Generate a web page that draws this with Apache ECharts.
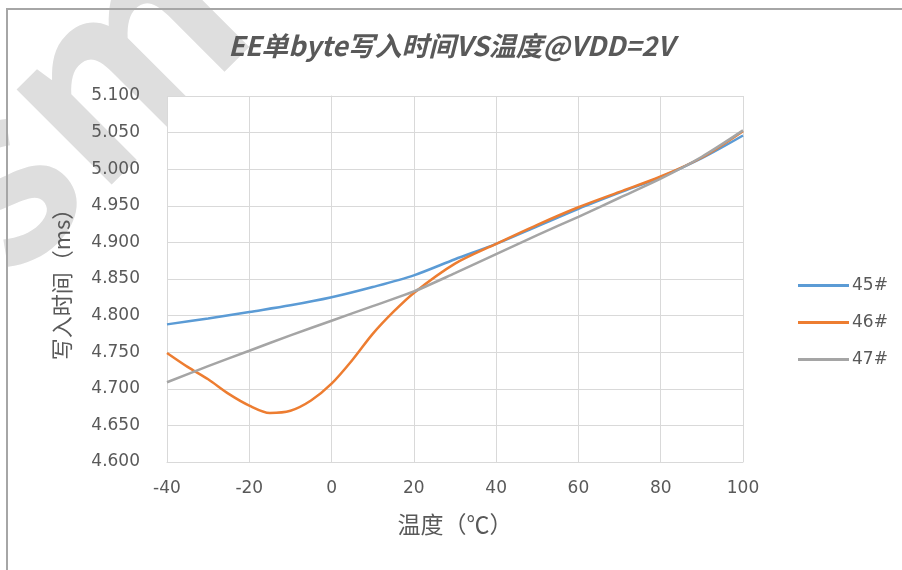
<!DOCTYPE html>
<html>
<head>
<meta charset="utf-8">
<script src="https://cdn.jsdelivr.net/npm/echarts@6/dist/echarts.min.js"></script>
<style>
  html, body { margin: 0; padding: 0; background: #fff; }
  #chart { width: 902px; height: 570px; }
</style>
</head>
<body>
<div id="chart"></div>
<script>
// 温度 (℃)
const temps = [-40, -30, -20, -10, 0, 10, 20, 30, 40, 50, 60, 70, 80, 90, 100];
const temps46 = [-40, -35, -30, -25, -20, -15, -10, -5, 0, 5, 10, 15, 20, 30, 40, 50, 60, 70, 80, 90, 100];
// 写入时间 (ms)
const s45 = [4.788, 4.796, 4.805, 4.814, 4.825, 4.839, 4.855, 4.877, 4.898, 4.922, 4.946, 4.968, 4.989, 5.015, 5.046];
const s46 = [4.749, 4.730, 4.713, 4.693, 4.677, 4.667, 4.670, 4.684, 4.707, 4.739, 4.775, 4.805, 4.831, 4.871, 4.898, 4.924, 4.948, 4.969, 4.990, 5.016, 5.052];
const s47 = [4.709, 4.731, 4.752, 4.773, 4.793, 4.813, 4.833, 4.858, 4.884, 4.910, 4.935, 4.961, 4.987, 5.017, 5.053];
const seriesNames = ['45#', '46#', '47#'];
const seriesColors = ['#5b9bd5', '#ed7d31', '#a5a5a5'];

const font = '"Noto Sans CJK SC", "Noto Sans", sans-serif';
const numFont = '"DejaVu Sans", sans-serif';
const textColor = '#595959';

function pairs(xs, values) {
  return xs.map((t, i) => [t, values[i]]);
}

const chart = echarts.init(document.getElementById('chart'));
chart.setOption({
  backgroundColor: '#fff',
  animation: false,
  title: {
    text: 'EE单byte写入时间VS温度@VDD=2V',
    left: 'center',
    top: 27,
    padding: [5, 5, 5, 25],
    textStyle: {
      fontFamily: font,
      fontSize: 27,
      fontWeight: 'bold',
      fontStyle: 'italic',
      color: textColor
    }
  },
  graphic: [
    // watermark
    {
      type: 'text',
      left: -135,
      top: -115,
      rotation: Math.PI / 4,
      z: -10,
      silent: true,
      style: {
        text: 'sm',
        fontSize: 240,
        fontWeight: 'bold',
        fontFamily: font,
        fill: '#dedede'
      }
    },
    // frame
    {
      type: 'rect',
      shape: { x: 7, y: 9, width: 1000, height: 700 },
      style: { fill: null, stroke: '#a6a6a6', lineWidth: 2 },
      z: -5,
      silent: true
    }
  ],
  legend: {
    orient: 'vertical',
    left: 793,
    top: 272,
    icon: 'rect',
    itemWidth: 51,
    itemHeight: 3,
    itemGap: 20,
    data: seriesNames,
    textStyle: { fontFamily: numFont, fontSize: 17, color: textColor, padding: [0, 0, 0, -2] }
  },
  grid: {
    left: 167,
    right: 159,
    top: 96,
    bottom: 108,
    show: true,
    backgroundColor: '#fff',
    borderWidth: 0
  },
  xAxis: {
    type: 'value',
    min: -40,
    max: 100,
    interval: 20,
    name: '温度（℃）',
    nameLocation: 'middle',
    nameGap: 51,
    nameTextStyle: { fontFamily: font, fontSize: 23, color: textColor },
    axisLine: { show: true, onZero: false, lineStyle: { color: '#d9d9d9', width: 1 } },
    axisTick: { show: false },
    axisLabel: { fontFamily: numFont, fontSize: 17, color: textColor, margin: 18 },
    splitLine: { show: true, lineStyle: { color: '#d9d9d9', width: 1 } }
  },
  yAxis: {
    type: 'value',
    min: 4.6,
    max: 5.1,
    interval: 0.05,
    name: '写入时间（ms）',
    nameLocation: 'middle',
    nameGap: 94,
    nameRotate: 90,
    nameTextStyle: { fontFamily: font, fontSize: 22, color: textColor },
    axisLine: { show: true, lineStyle: { color: '#d9d9d9', width: 1 } },
    axisTick: { show: false },
    axisLabel: {
      fontFamily: numFont,
      fontSize: 17,
      color: textColor,
      margin: 27,
      formatter: v => v.toFixed(3)
    },
    splitLine: { show: true, lineStyle: { color: '#d9d9d9', width: 1 } }
  },
  series: [
    { name: seriesNames[0], xs: temps, vals: s45 },
    { name: seriesNames[1], xs: temps46, vals: s46 },
    { name: seriesNames[2], xs: temps, vals: s47 }
  ].map((s, i) => ({
    name: s.name,
    type: 'line',
    smooth: 0.3,
    showSymbol: false,
    symbol: 'none',
    color: seriesColors[i],
    lineStyle: { color: seriesColors[i], width: 2.5 },
    data: pairs(s.xs, s.vals)
  }))
});
</script>
</body>
</html>
